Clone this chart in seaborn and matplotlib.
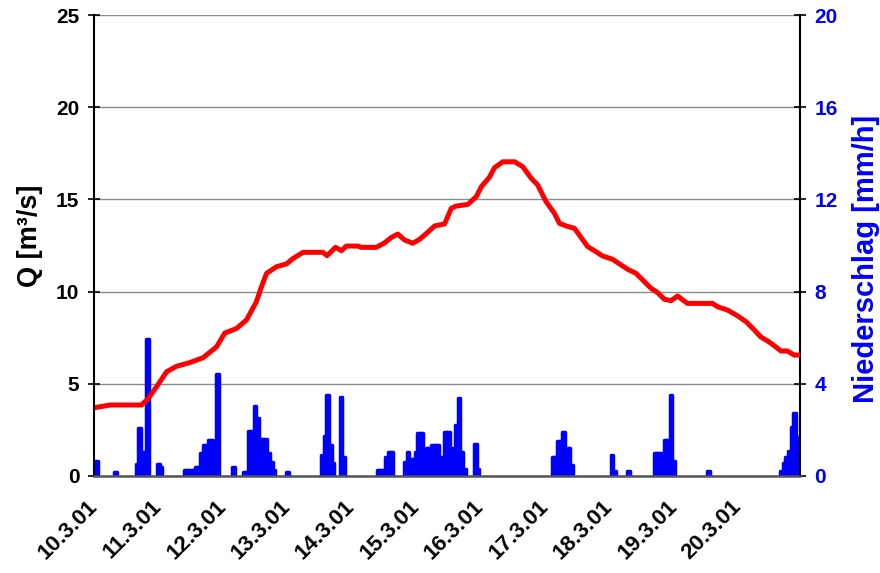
import matplotlib
matplotlib.use('Agg')
import matplotlib.pyplot as plt
import seaborn as sns

# Abfluss Q [m³/s]: Stunde ab 10.3.01 00:00
q_hours = [0, 6.0, 17.7, 20.2, 23.3, 27.1, 30.8, 35.7, 40.7, 45.7, 48.7, 53.1, 56.8,
           60.5, 62.4, 64.3, 68.0, 71.7, 74.2, 77.9, 85.3, 86.8, 90.0, 92.2, 94.0,
           98.3, 99.6, 105.2, 108.3, 110.8, 113.2, 115.7, 118.8, 121.3, 123.2, 126.9,
           130.6, 133.1, 135.0, 139.3, 142.4, 144.3, 147.3, 149.2, 152.3, 156.7,
           159.7, 162.9, 165.3, 168.4, 171.5, 173.4, 175.9, 179.0, 183.9, 186.4,
           189.5, 193.2, 196.4, 198.8, 201.9, 204.4, 207.5, 210.0, 212.5, 215.0,
           217.4, 221.1, 230.4, 232.3, 236.0, 239.7, 242.9, 245.9, 248.4, 251.5,
           254.0, 255.9, 258.3, 260.8, 263.0]
q_values = [3.7, 3.85, 3.85, 4.2, 4.84, 5.66, 5.95, 6.15, 6.42, 7.01, 7.75, 8.0, 8.46,
            9.45, 10.27, 10.99, 11.35, 11.5, 11.8, 12.13, 12.13, 11.95, 12.4, 12.22, 12.47,
            12.47, 12.4, 12.4, 12.65, 12.94, 13.12, 12.8, 12.62, 12.84, 13.07, 13.56,
            13.67, 14.52, 14.64, 14.73, 15.15, 15.69, 16.2, 16.72, 17.04, 17.04,
            16.78, 16.14, 15.78, 14.88, 14.25, 13.7, 13.56, 13.43, 12.44, 12.22,
            11.93, 11.75, 11.44, 11.21, 10.99, 10.63, 10.18, 9.94, 9.58, 9.51,
            9.76, 9.36, 9.36, 9.18, 9.0, 8.69, 8.37, 7.93, 7.54, 7.27,
            7.0, 6.78, 6.78, 6.56, 6.56]

# Niederschlag [mm/h], Stundenwerte (nur Stunden mit Regen)
rain_hours = [1, 8, 16, 17, 18, 19, 20, 24, 25,
              34, 35, 36, 37, 38, 39, 40, 41, 42, 43, 44, 45, 46, 52,
              56, 57, 58, 59, 60, 61, 62, 63, 64, 65, 66, 67, 72,
              85, 86, 87, 88, 89, 92, 93,
              106, 107, 108, 109, 110, 111,
              116, 117, 118, 119, 120, 121, 122, 123, 124, 125, 126, 127, 128,
              129, 130, 131, 132, 133, 134, 135, 136, 137, 138, 142, 143,
              171, 172, 173, 174, 175, 176, 177, 178, 193, 194, 199,
              209, 210, 211, 212, 213, 214, 215, 216, 229,
              256, 257, 258, 259, 260, 261, 262]
rain_values = [0.65, 0.17, 0.5, 2.1, 1.05, 1.05, 5.94, 0.53, 0.4,
               0.27, 0.27, 0.27, 0.27, 0.4, 0.4, 1.0, 1.34, 1.34, 1.56, 1.56, 0.84, 4.42, 0.38,
               0.19, 0.19, 1.97, 1.97, 3.04, 2.5, 1.59, 1.59, 1.59, 0.98, 0.62, 0.26, 0.19,
               0.91, 1.74, 3.5, 1.34, 0.55, 3.44, 0.84,
               0.26, 0.26, 0.26, 0.84, 1.05, 1.05,
               0.62, 1.05, 0.72, 0.72, 1.05, 1.85, 1.85, 0.91, 1.2, 1.2, 1.34, 1.34, 1.34,
               0.81, 0.77, 1.92, 1.92, 0.62, 1.23, 2.2, 3.37, 1.05, 0.29, 1.37, 0.3,
               0.81, 0.81, 1.53, 1.53, 1.92, 1.2, 1.2, 0.48, 0.91, 0.23, 0.23,
               0.98, 0.98, 0.98, 0.85, 1.56, 1.56, 3.51, 0.66, 0.23,
               0.23, 0.55, 0.84, 1.08, 2.14, 2.72, 1.68]

day_hours = [0, 24, 48, 72, 96, 120, 144, 168, 192, 216, 240]
day_labels = ['10.3.01', '11.3.01', '12.3.01', '13.3.01', '14.3.01', '15.3.01',
              '16.3.01', '17.3.01', '18.3.01', '19.3.01', '20.3.01']

sns.set_style('white')
plt.rcParams['font.family'] = ['Liberation Sans', 'DejaVu Sans']
plt.rcParams['text.color'] = 'black'
plt.rcParams['axes.labelcolor'] = 'black'
plt.rcParams['xtick.color'] = 'black'
plt.rcParams['ytick.color'] = 'black'

fig = plt.figure(figsize=(8.8, 5.73), dpi=100)
ax = fig.add_axes([0.1068, 0.1693, 0.8023, 0.8045])
ax2 = ax.twinx()

# Niederschlag als Balken auf der rechten Achse
ax2.bar(rain_hours, rain_values, width=1.0, color='#0000FF', edgecolor='#0000FF',
        linewidth=2.5, joinstyle='round')
ax2.set_ylim(0, 20)
ax2.set_yticks([0, 4, 8, 12, 16, 20])
ax2.yaxis.grid(True, color='#8c8c8c', linewidth=1)
ax2.set_axisbelow(True)

# Abfluss als Linie obenauf
ax.set_zorder(ax2.get_zorder() + 1)
ax.patch.set_visible(False)
ax2.patch.set_visible(True)
ax2.patch.set_facecolor('white')
sns.lineplot(x=q_hours, y=q_values, ax=ax, color='#FF0000', linewidth=3.6)

ax.set_xlim(0, 263)
ax.set_ylim(0, 25)
ax.set_yticks([0, 5, 10, 15, 20, 25])
ax.set_xticks(day_hours)
ax.set_xticklabels(day_labels, rotation=45, ha='right', va='center',
                   rotation_mode='anchor', fontsize=16, fontweight='bold', color='black')
for lab in ax.get_yticklabels():
    lab.set_fontsize(15)
    lab.set_fontweight('bold')
    lab.set_color('black')
for lab in ax2.get_yticklabels():
    lab.set_fontsize(15)
    lab.set_fontweight('bold')
    lab.set_color('#0000FF')

ax.tick_params(axis='y', direction='inout', length=9, width=1.2, color='black', pad=6)
ax.tick_params(axis='x', direction='inout', length=9, width=1.2, color='#555555', pad=15)
ax2.tick_params(axis='y', direction='inout', length=9, width=1.2, color='black', pad=6)

ax.set_ylabel('Q [m³/s]', fontsize=19.5, fontweight='bold', color='black')
ax.yaxis.set_label_coords(-0.072, 0.52)
ax2.set_ylabel('Niederschlag [mm/h]', fontsize=21, fontweight='bold', color='#0000FF')
ax2.yaxis.set_label_coords(1.074, 0.47)

for a in (ax, ax2):
    for s in a.spines.values():
        s.set_visible(False)
ax.spines['left'].set_visible(True)
ax.spines['left'].set_color('black')
ax.spines['left'].set_linewidth(1.5)
ax.spines['bottom'].set_visible(True)
ax.spines['bottom'].set_color('#555555')
ax.spines['bottom'].set_linewidth(1.8)
ax2.spines['right'].set_visible(True)
ax2.spines['right'].set_color('black')
ax2.spines['right'].set_linewidth(1.5)

fig.savefig('out.png', dpi=100, facecolor='white')
